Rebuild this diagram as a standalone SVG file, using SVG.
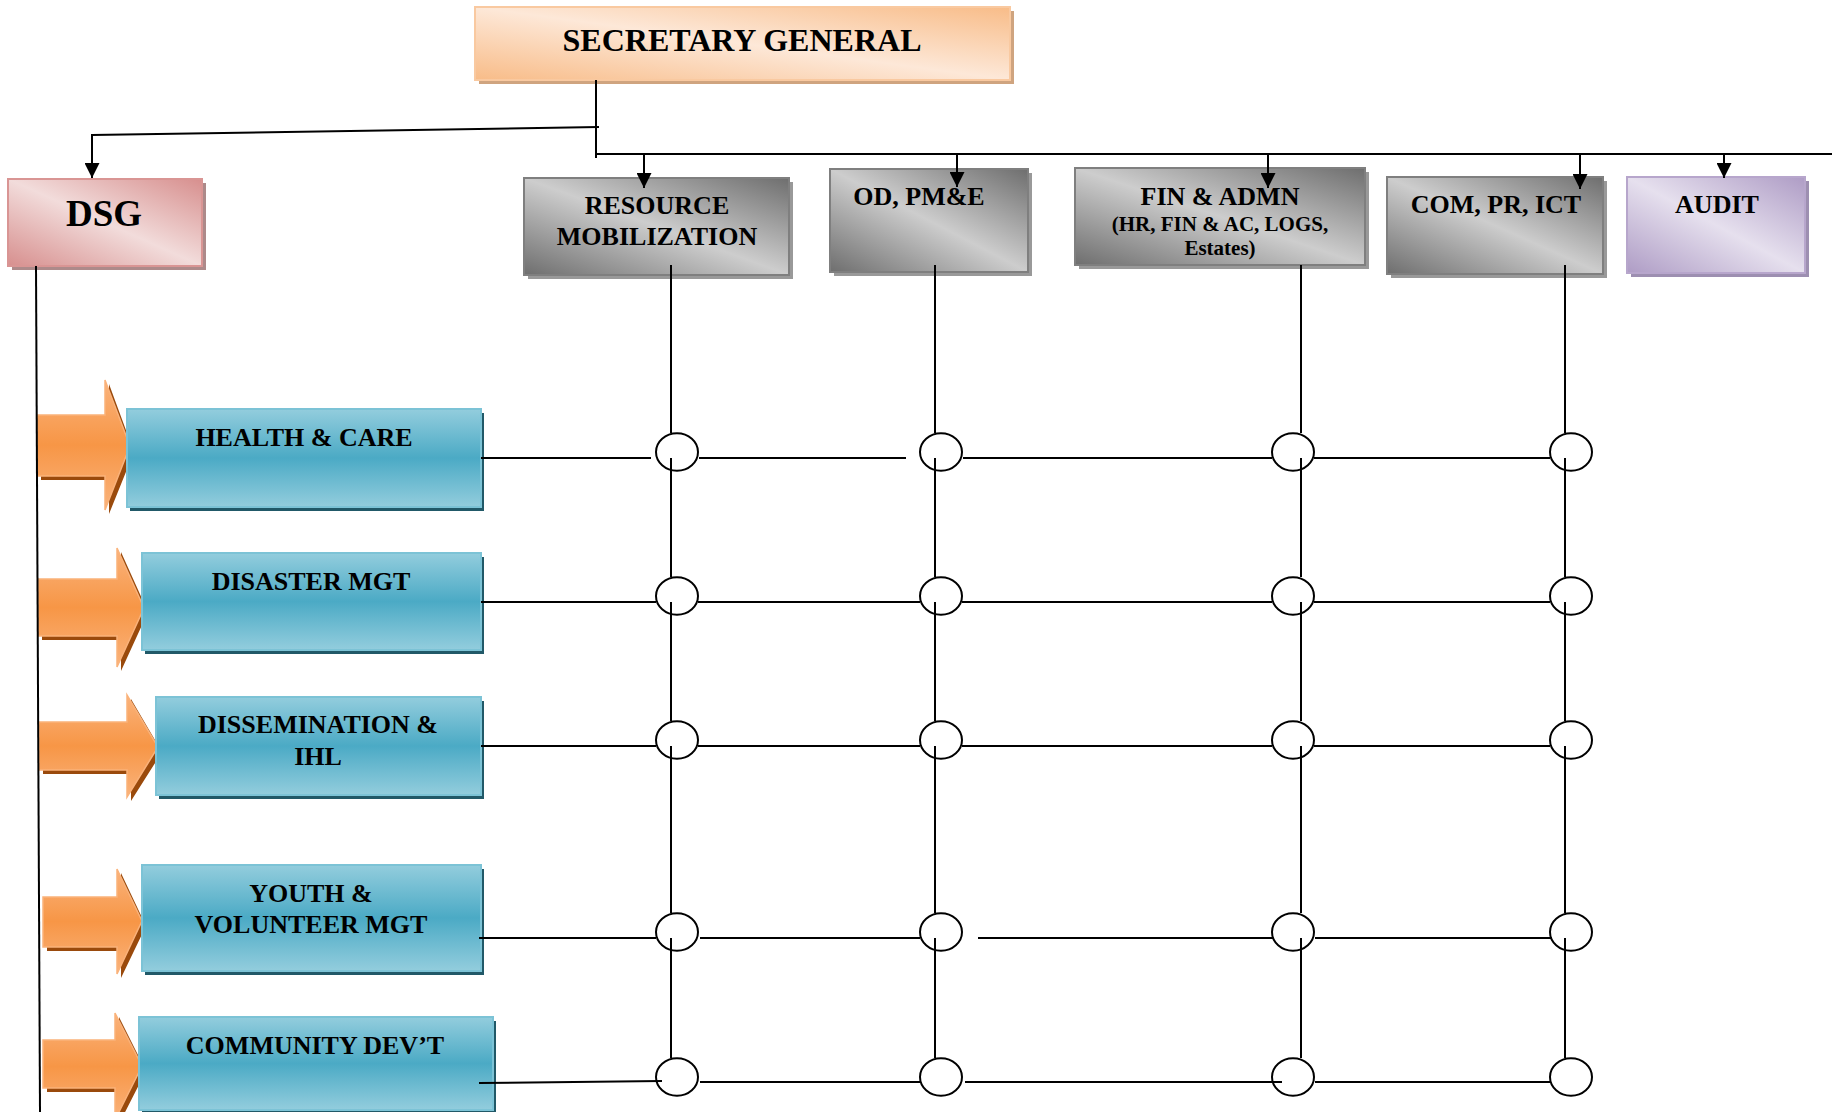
<svg xmlns="http://www.w3.org/2000/svg" width="1832" height="1112" viewBox="0 0 1832 1112">
  <style>
    .t { font-family: "Liberation Serif", "Times New Roman", serif; font-weight: bold; fill: #000; text-anchor: middle; }
    .t32 { font-size: 32px; }
    .t37 { font-size: 37px; }
    .t26 { font-size: 26px; }
    .t21 { font-size: 21px; }
    .ln { stroke: #000; stroke-width: 2; fill: none; }
    .ring { stroke: #000; stroke-width: 2; fill: none; }
    .arr { stroke: #000; stroke-width: 2; fill: none; marker-end: url(#ah); }
    .blue { fill: url(#gBlue); stroke: #7cc3d6; stroke-width: 2; }
    .blueSh { fill: #215968; }
    .gray { fill: url(#gGray); stroke: #7f7f7f; stroke-width: 2; }
    .graySh { fill: #999; }
    .oarr { fill: url(#gOrange); stroke: #fab27a; stroke-width: 1.5; }
    .oarrSh { fill: #9a4a0c; }
  </style>
  <defs>
    <marker id="ah" viewBox="0 0 10 10" refX="10" refY="5" markerWidth="15" markerHeight="15" markerUnits="userSpaceOnUse" orient="auto">
      <path d="M0,0 L10,5 L0,10 Z" fill="#000"/>
    </marker>
    <linearGradient id="gPeach" x1="0" y1="1" x2="1" y2="0">
      <stop offset="0" stop-color="#f8bc88"/>
      <stop offset="0.5" stop-color="#fde8d8"/>
      <stop offset="1" stop-color="#f8bc88"/>
    </linearGradient>
    <linearGradient id="gPink" x1="0" y1="1" x2="1" y2="0">
      <stop offset="0" stop-color="#d78f8e"/>
      <stop offset="0.5" stop-color="#f2dcdb"/>
      <stop offset="1" stop-color="#d78f8e"/>
    </linearGradient>
    <linearGradient id="gGray" x1="0" y1="1" x2="1" y2="0">
      <stop offset="0" stop-color="#6e6e6e"/>
      <stop offset="0.5" stop-color="#cdcdcd"/>
      <stop offset="1" stop-color="#6e6e6e"/>
    </linearGradient>
    <linearGradient id="gPurple" x1="0" y1="1" x2="1" y2="0">
      <stop offset="0" stop-color="#ae9cc5"/>
      <stop offset="0.5" stop-color="#e6e0ee"/>
      <stop offset="1" stop-color="#ae9cc5"/>
    </linearGradient>
    <linearGradient id="gBlue" x1="0" y1="0" x2="0" y2="1">
      <stop offset="0" stop-color="#93cddd"/>
      <stop offset="0.5" stop-color="#4baac5"/>
      <stop offset="1" stop-color="#93cddd"/>
    </linearGradient>
    <linearGradient id="gOrange" x1="0" y1="0" x2="0" y2="1">
      <stop offset="0" stop-color="#fab37c"/>
      <stop offset="0.5" stop-color="#f79646"/>
      <stop offset="1" stop-color="#fab37c"/>
    </linearGradient>
  </defs>

  <rect width="1832" height="1112" fill="#fff"/>

  <!-- top nodes -->
  <g id="sg">
    <rect x="479" y="11" width="535" height="73" fill="#cfa47f"/>
    <rect x="475" y="7" width="535" height="73" fill="url(#gPeach)" stroke="#f9c9a0" stroke-width="2"/>
    <text class="t t32" x="742" y="51">SECRETARY GENERAL</text>
  </g>

  <g id="dsg">
    <rect x="12" y="183" width="194" height="87" fill="#ad8a8a"/>
    <rect x="8" y="179" width="194" height="87" fill="url(#gPink)" stroke="#d99594" stroke-width="2"/>
    <text class="t t37" x="104" y="226">DSG</text>
  </g>

  <g id="resource-mobilization">
    <rect class="graySh" x="528" y="182" width="265" height="97"/>
    <rect class="gray" x="524" y="178" width="265" height="97"/>
    <text class="t t26" x="657" y="214">RESOURCE</text>
    <text class="t t26" x="657" y="245">MOBILIZATION</text>
  </g>

  <g id="od-pme">
    <rect class="graySh" x="834" y="173" width="198" height="103"/>
    <rect class="gray" x="830" y="169" width="198" height="103"/>
    <text class="t t26" x="919" y="205">OD, PM&amp;E</text>
  </g>

  <g id="fin-admn">
    <rect class="graySh" x="1079" y="172" width="290" height="97"/>
    <rect class="gray" x="1075" y="168" width="290" height="97"/>
    <text class="t t26" x="1220" y="205">FIN &amp; ADMN</text>
    <text class="t t21" x="1220" y="231">(HR, FIN &amp; AC, LOGS,</text>
    <text class="t t21" x="1220" y="255">Estates)</text>
  </g>

  <g id="com-pr-ict">
    <rect class="graySh" x="1391" y="181" width="216" height="97"/>
    <rect class="gray" x="1387" y="177" width="216" height="97"/>
    <text class="t t26" x="1496" y="213">COM, PR, ICT</text>
  </g>

  <g id="audit">
    <rect x="1631" y="181" width="178" height="96" fill="#9d8fb1"/>
    <rect x="1627" y="177" width="178" height="96" fill="url(#gPurple)" stroke="#b7a6cc" stroke-width="2"/>
    <text class="t t26" x="1717" y="213">AUDIT</text>
  </g>

  <!-- department rows -->
  <g id="health-care">
    <path class="oarrSh" d="M41,419 H109 V384 L134,452 L109,514 V480 H41 Z"/>
    <path class="oarr" d="M37,415 H105 V380 L130,446 L105,510 V476 H37 Z"/>
    <rect class="blueSh" x="130" y="413" width="354" height="98"/>
    <rect class="blue" x="127" y="409" width="354" height="98"/>
    <text class="t t26" x="304" y="446">HEALTH &amp; CARE</text>
  </g>

  <g id="disaster-mgt">
    <path class="oarrSh" d="M42,583 H121 V552 L148,612 L121,671 V640 H42 Z"/>
    <path class="oarr" d="M38,579 H117 V548 L144,608 L117,667 V636 H38 Z"/>
    <rect class="blueSh" x="145" y="557" width="339" height="97"/>
    <rect class="blue" x="142" y="553" width="339" height="97"/>
    <text class="t t26" x="311" y="590">DISASTER MGT</text>
  </g>

  <g id="dissemination-ihl">
    <path class="oarrSh" d="M43,726 H131 V699 L162,752 L131,801 V774 H43 Z"/>
    <path class="oarr" d="M39,722 H127 V695 L158,747 L127,797 V770 H39 Z"/>
    <rect class="blueSh" x="159" y="701" width="325" height="98"/>
    <rect class="blue" x="156" y="697" width="325" height="98"/>
    <text class="t t26" x="318" y="733">DISSEMINATION &amp;</text>
    <text class="t t26" x="318" y="765">IHL</text>
  </g>

  <g id="youth-volunteer-mgt">
    <path class="oarrSh" d="M47,901 H121 V873 L146,926 L121,978 V951 H47 Z"/>
    <path class="oarr" d="M43,897 H117 V869 L142,921 L117,974 V947 H43 Z"/>
    <rect class="blueSh" x="145" y="869" width="339" height="106"/>
    <rect class="blue" x="142" y="865" width="339" height="106"/>
    <text class="t t26" x="311" y="902">YOUTH &amp;</text>
    <text class="t t26" x="311" y="933">VOLUNTEER MGT</text>
  </g>

  <g id="community-devt">
    <path class="oarrSh" d="M47,1044 H119 V1017 L146,1071 L119,1124 V1092 H47 Z"/>
    <path class="oarr" d="M43,1040 H115 V1013 L142,1066 L115,1120 V1088 H43 Z"/>
    <rect class="blueSh" x="142" y="1021" width="354" height="93"/>
    <rect class="blue" x="139" y="1017" width="354" height="93"/>
    <text class="t t26" x="315" y="1054">COMMUNITY DEV’T</text>
  </g>

  <!-- connectors -->
  <g id="connectors">
    <!-- SG trunk -->
    <line class="ln" x1="596" y1="80" x2="596" y2="158"/>
    <line class="ln" x1="599" y1="127" x2="92" y2="135"/>
    <line class="arr" x1="92" y1="134" x2="92" y2="178"/>
    <line class="ln" x1="596" y1="154" x2="1832" y2="154"/>
    <line class="arr" x1="644" y1="154" x2="644" y2="188"/>
    <line class="arr" x1="957" y1="154" x2="957" y2="187"/>
    <line class="arr" x1="1268" y1="154" x2="1268" y2="188"/>
    <line class="arr" x1="1580" y1="154" x2="1580" y2="189"/>
    <line class="arr" x1="1724" y1="154" x2="1724" y2="178"/>
    <!-- DSG spine -->
    <line class="ln" x1="36" y1="266" x2="40" y2="1112"/>

    <!-- vertical columns -->
    <path class="ln" d="M671,265 V433 M671,458 V577 M671,602 V721 M671,746 V913 M671,938 V1058"/>
    <path class="ln" d="M935,265 V433 M935,458 V577 M935,602 V721 M935,746 V913 M935,938 V1058"/>
    <path class="ln" d="M1301,265 V433 M1301,458 V577 M1301,602 V721 M1301,746 V913 M1301,938 V1058"/>
    <path class="ln" d="M1565,265 V433 M1565,458 V577 M1565,602 V721 M1565,746 V913 M1565,938 V1058"/>

    <!-- horizontal rows -->
    <path class="ln" d="M481,458 H651 M699,458 H906 M963,458 H1272 M1314,458 H1550"/>
    <path class="ln" d="M481,602 H656 M698,602 H920 M962,602 H1272 M1314,602 H1550"/>
    <path class="ln" d="M481,746 H656 M698,746 H920 M962,746 H1272 M1314,746 H1550"/>
    <path class="ln" d="M479,938 H656 M700,938 H920 M978,938 H1273 M1315,938 H1552"/>
    <path class="ln" d="M479,1083 L662,1081 M700,1082 H920 M965,1082 H1282 M1315,1082 H1550"/>

    <!-- junction circles -->
    <g class="ring">
      <ellipse cx="677" cy="452" rx="21" ry="18.7"/>
      <ellipse cx="941" cy="452" rx="21" ry="18.7"/>
      <ellipse cx="1293" cy="452" rx="21" ry="18.7"/>
      <ellipse cx="1571" cy="452" rx="21" ry="18.7"/>
      <ellipse cx="677" cy="596" rx="21" ry="18.7"/>
      <ellipse cx="941" cy="596" rx="21" ry="18.7"/>
      <ellipse cx="1293" cy="596" rx="21" ry="18.7"/>
      <ellipse cx="1571" cy="596" rx="21" ry="18.7"/>
      <ellipse cx="677" cy="740" rx="21" ry="18.7"/>
      <ellipse cx="941" cy="740" rx="21" ry="18.7"/>
      <ellipse cx="1293" cy="740" rx="21" ry="18.7"/>
      <ellipse cx="1571" cy="740" rx="21" ry="18.7"/>
      <ellipse cx="677" cy="932" rx="21" ry="18.7"/>
      <ellipse cx="941" cy="932" rx="21" ry="18.7"/>
      <ellipse cx="1293" cy="932" rx="21" ry="18.7"/>
      <ellipse cx="1571" cy="932" rx="21" ry="18.7"/>
      <ellipse cx="677" cy="1077" rx="21" ry="18.7"/>
      <ellipse cx="941" cy="1077" rx="21" ry="18.7"/>
      <ellipse cx="1293" cy="1077" rx="21" ry="18.7"/>
      <ellipse cx="1571" cy="1077" rx="21" ry="18.7"/>
    </g>
  </g>
</svg>
